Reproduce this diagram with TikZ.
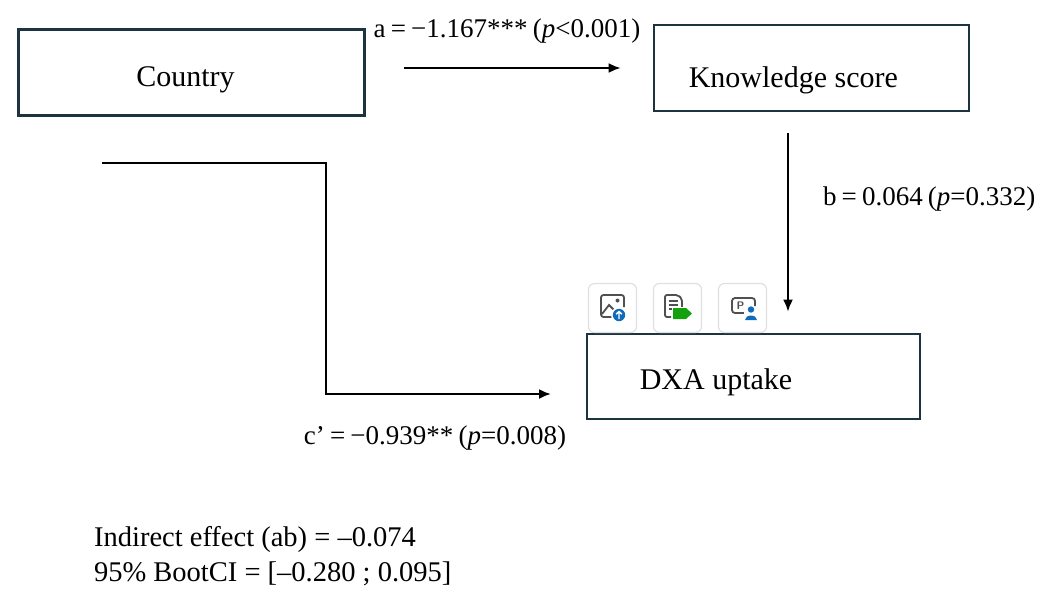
\documentclass[tikz,border=0pt]{standalone}
\usepackage{fontspec}
\setmainfont{Liberation Serif}
\usetikzlibrary{arrows.meta}
\definecolor{boxcol}{HTML}{1C3440}
\definecolor{iconblue}{HTML}{0F6CBD}
\definecolor{icongreen}{HTML}{13A10E}
\definecolor{icongray}{HTML}{505050}

\begin{document}
\begin{tikzpicture}[x=1pt,y=-1pt,line width=2.2pt,
  varbox/.style={draw=boxcol,line width=2.6pt,inner sep=0pt},
  path/.style={-{Latex[length=12pt,width=10pt]}},
  txt/.style={font=\fontsize{30}{36}\selectfont,inner sep=0pt},
  lab/.style={font=\fontsize{27}{34}\selectfont,inner sep=0pt,
    execute at begin node={\spaceskip=0.19em plus 0.05em\relax}},
  note/.style={font=\fontsize{28.5}{34}\selectfont,inner sep=0pt},
  iconbox/.style={draw=black!12,fill=white,rounded corners=6pt,line width=1.2pt,minimum width=48pt,minimum height=49pt}]
\useasboundingbox (0,0) rectangle (1052,598);

\node[varbox,minimum width=346pt,minimum height=86pt] (country) at (191.5,72.5) {};
\node[varbox,minimum width=315pt,minimum height=86pt] (know) at (811.5,68) {};
\node[varbox,minimum width=333pt,minimum height=85pt] (dxa) at (753.5,376.5) {};

\node[txt,anchor=base west] (countrytxt) at ([xshift=118pt,yshift=-13.5pt]country.west) {Country};
\node[txt,anchor=base west] (knowtxt) at ([xshift=35pt,yshift=-19pt]know.west) {Knowledge score};
\node[txt,anchor=base west] (dxatxt) at ([xshift=53pt,yshift=-12.5pt]dxa.west) {DXA uptake};

% a path
\draw[path,shorten <=38pt,shorten >=32pt] (country.east |- know.west) -- (know.west);
\node[lab,anchor=base] (alab) at (507,37) {a = −1.167*** (\textit{p}<0.001)};

% b path
\draw[path,shorten <=21pt,shorten >=21pt] ([xshift=-23.5pt]know.south) -- ([xshift=-23.5pt]know.south |- dxa.north);
\node[lab,anchor=base west] (blab) at (822,205) {b = 0.064 (\textit{p}=0.332)};

% c' path
\coordinate (cstart) at (102,163);
\coordinate (cbend) at (326,394);
\coordinate (cend) at (551,394);
\draw[path] (cstart) -| (cbend) -- (cend);
\node[lab,anchor=base] (clab) at (435,444) {c’ = −0.939** (\textit{p}=0.008)};

\node[note,anchor=base west] (indirect) at (93,546) {Indirect effect (ab) = –0.074};
\node[note,anchor=base west] (bootci) at (93,581) {95\% BootCI = [–0.280 ; 0.095]};

% icons
\foreach \i/\x in {1/612.5,2/677.5,3/742.5}
  \node[iconbox] (icon\i) at (\x,308) {};

\draw[icongray,line width=1.8pt,rounded corners=2.5pt] (612,317) -- (601,317) -- (601,295) -- (624,295) -- (624,307);
\draw[icongray,line width=1.8pt] (602,314) -- (609,305) -- (614,310);
\fill[icongray] (617.5,300.5) circle (2);
\fill[white] (619,315) circle (8);
\fill[iconblue] (619,315) circle (6.2);
\draw[white,line width=1.4pt] (619,319) -- (619,311.5) (616.2,314.2) -- (619,311.5) -- (621.8,314.2);

\draw[icongray,line width=1.8pt,rounded corners=2pt] (671,317) -- (665,317) -- (665,295) -- (678,295) -- (682,299) -- (682,307);
\draw[icongray,line width=1.5pt] (668.5,301) -- (678,301) (668.5,305) -- (678,305) (668.5,309) -- (673,309);
\fill[white] (672,306.5) rectangle (694,320.5);
\fill[icongreen] (673,308) -- (686,308) -- (692,313.5) -- (686,319) -- (673,319) -- cycle;

\draw[icongray,line width=1.8pt,rounded corners=3pt] (744,313) -- (732,313) -- (732,298) -- (755,298) -- (755,306);
\node[font=\sffamily\bfseries\fontsize{11}{11}\selectfont,text=icongray,inner sep=0pt] (ptxt) at (740.5,305.5) {P};
\fill[white] (751,314) circle (7);
\fill[iconblue] (751,309.5) circle (3.2);
\fill[iconblue] (745,320) arc (180:360:6 and 4.5) -- cycle;
\end{tikzpicture}
\end{document}
